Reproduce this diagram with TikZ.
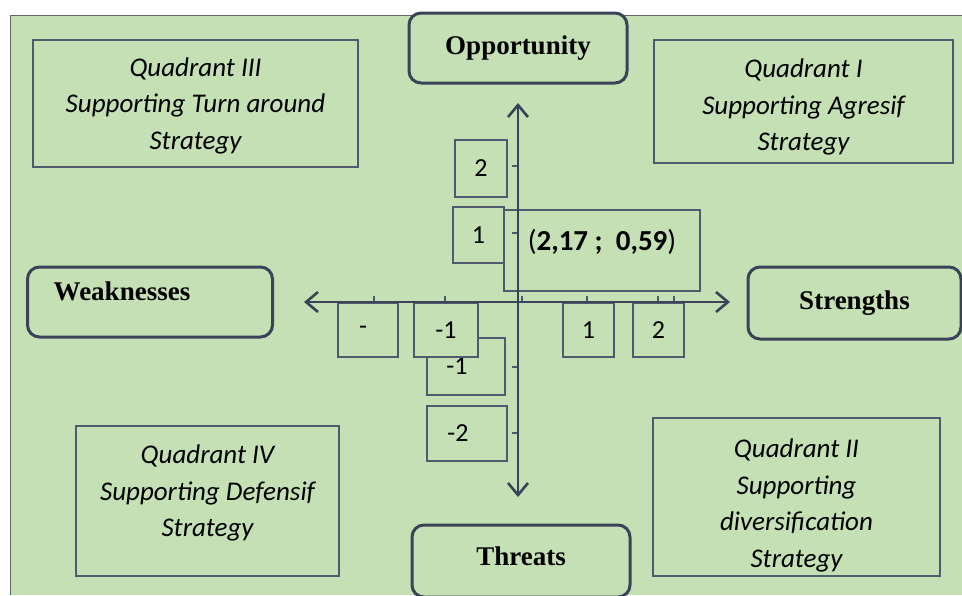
\documentclass[tikz,border=0pt]{standalone}
\usepackage{fontspec}
\setmainfont{Liberation Serif}
\newfontfamily\calfont{Carlito}
\usetikzlibrary{arrows.meta}
\definecolor{swotgreen}{HTML}{C5E0B4}
\definecolor{swotdark}{HTML}{3A4358}
\definecolor{swotline}{HTML}{4F5A6E}

\begin{document}
\begin{tikzpicture}[x=1pt,y=-1pt,
  side/.style={draw=swotdark,line width=3pt,rounded corners=12pt,fill=swotgreen,inner sep=0pt,
    font=\fontsize{27}{30}\selectfont\bfseries},
  quad/.style={draw=swotline,line width=1.2pt,fill=swotgreen,align=center,inner sep=0pt,
    font=\calfont\itshape\fontsize{27}{36.5}\selectfont},
  numbox/.style={draw=swotline,line width=1.2pt,fill=swotgreen,inner sep=0pt,
    font=\calfont\fontsize{26}{30}\selectfont},
  axis/.style={draw=swotdark,line width=2.6pt,
    {Straight Barb[length=12pt,width=20pt]}-{Straight Barb[length=12pt,width=20pt]}}]
\def\xAxis{302}
\def\yAxis{518}
\useasboundingbox (0,0) rectangle (962,595);
\fill[white] (0,0) rectangle (962,595);
\fill[swotgreen] (10,15) rectangle (962,595);
\draw[gray!80!black,line width=1pt] (10,595) -- (10,15) -- (962,15);

% quadrant boxes
\node[quad,minimum width=325,minimum height=127,text depth=-2pt] (quadIII) at (195.5,103.5) {Quadrant III\\Supporting Turn around\\Strategy};
\node[quad,minimum width=299,minimum height=123,text depth=-3pt] (quadI) at (803.5,101.5) {\rule{0pt}{25pt}Quadrant I\\Supporting Agresif\\Strategy};
\node[quad,minimum width=263,minimum height=150,text depth=20pt] (quadIV) at (207.5,501) {Quadrant IV\\Supporting Defensif\\Strategy};
\node[quad,minimum width=287,minimum height=158,text depth=-9pt] (quadII) at (796.5,497) {\rule{0pt}{31pt}Quadrant II\\Supporting\\diversification\\Strategy};

% side labels
\node[side,minimum width=218,minimum height=70] (opp) at (518,48) {Opportunity};
\node[side,minimum width=245,minimum height=70,text depth=22pt] (weak) at (150,302) {\kern-56pt Weaknesses};
\node[side,minimum width=213,minimum height=72] (strong) at (854.5,303) {Strengths};
\node[side,minimum width=218,minimum height=72,text depth=9pt] (threat) at (521,561) {Threats};

% scale boxes
\node[numbox,minimum width=196,minimum height=81,text depth=22pt,font=\calfont\fontsize{29}{32}\selectfont] (point) at (602,250.5) {(\textbf{2,17 ;\ \ 0,59})};
\node[numbox,minimum width=52,minimum height=57] (vTwo) at (481,168.5) {2};
\node[numbox,minimum width=51,minimum height=56] (vOne) at (478.5,235) {1};
\node[numbox,minimum width=78,minimum height=57] (vMinOne) at (466,366.5) {\kern-18pt-1};
\node[numbox,minimum width=80,minimum height=55] (vMinTwo) at (467,433.5) {\kern-18pt-2};
\node[numbox,minimum width=60,minimum height=54] (hMinTwo) at (368,330) {\kern-10pt\raisebox{-3pt}{-}};
\node[numbox,minimum width=64,minimum height=54] (hMinOne) at (446,330) {-1};
\node[numbox,minimum width=51,minimum height=54] (hOne) at (588.5,330) {1};
\node[numbox,minimum width=51,minimum height=54] (hTwo) at (658.5,330) {2};

% axes
\coordinate (yTop) at (\yAxis,103);
\coordinate (yBot) at (\yAxis,497);
\coordinate (xLeft) at (304,\xAxis);
\coordinate (xRight) at (730,\xAxis);
\begin{scope}[every path/.style={draw=swotline,line width=1.3pt}]
\path (512,166) -- (\yAxis,166);
\path (512,233) -- (\yAxis,233);
\path (512,367) -- (\yAxis,367);
\path (512,433) -- (\yAxis,433);
\path (374,296) -- (374,\xAxis);
\path (445,296) -- (445,\xAxis);
\path (522,296) -- (522,\xAxis);
\path (587,296) -- (587,\xAxis);
\path (658,296) -- (658,\xAxis);
\path (674,296) -- (674,\xAxis);
\end{scope}
\draw[axis] (yTop) -- (yBot);
\draw[axis] (xLeft) -- (xRight);
\end{tikzpicture}
\end{document}
